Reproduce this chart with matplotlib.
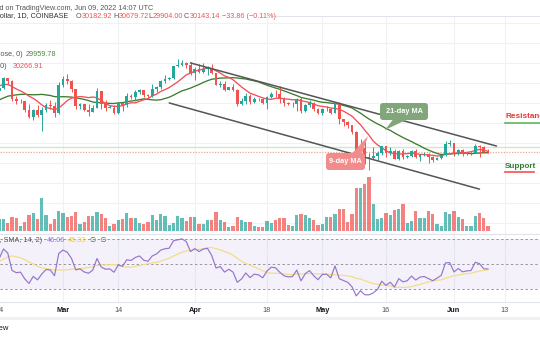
import numpy as np
import pandas as pd
import matplotlib
matplotlib.use("Agg")
import matplotlib.pyplot as plt
import matplotlib.dates as mdates
import matplotlib.transforms as mtrans
from matplotlib.patches import FancyBboxPatch, Polygon, Rectangle
from matplotlib.lines import Line2D

# ---------------- data ----------------
# daily closes before the visible window (Jan 1 - Feb 13, 2022), used for MA / RSI warm-up
prior_closes = [47690, 47290, 46430, 45830, 43430, 43080, 41560, 41730, 41860, 41830,
                42740, 43920, 42590, 43100, 43180, 43110, 42250, 42370, 41680, 40690,
                36470, 35050, 36280, 36690, 36960, 36810, 37160, 37710, 38170, 37920,
                38480, 38740, 36950, 37080, 41570, 41380, 42410, 43840, 44040, 44380,
                43540, 42380, 42220, 42070]

start_date, end_date = "2022-02-14", "2022-06-09"

closes = [
    # Feb 14-28
    42560, 44580, 43960, 40560, 40000, 40100, 38380, 37030, 38260, 37270, 38330, 39230, 39120, 37700, 43190,
    # Mar
    44420, 43920, 42460, 39140, 39400, 38420, 38020, 38740, 41940, 39420, 38730, 38810, 37780, 39670, 39280,
    41120, 40920, 41760, 42200, 41260, 41000, 42360, 42890, 43960, 44350, 44500, 46820, 47130, 47440, 47060, 45510,
    # Apr
    46280, 45810, 46400, 46580, 45500, 43170, 43440, 42250, 42750, 42150, 39530, 40080, 41150, 39940, 40550,
    40380, 39680, 40800, 41490, 41370, 40480, 39710, 39470, 39520, 40430, 38110, 39240, 39740, 38600, 37650,
    # May
    38470, 38520, 37720, 39690, 36550, 36010, 35470, 34040, 30080, 31010, 29000, 28950, 29280, 29860, 31300,
    29850, 30420, 28700, 30300, 29200, 29430, 30320, 29100, 29650, 29760, 29190, 28630, 29030, 29470, 31730, 31800,
    # Jun 1-9
    29800, 30460, 29700, 29860, 29920, 31370, 31130, 30180, 30143.14]

highs = [
    42840, 44770, 44590, 44190, 40980, 40450, 40150, 39480, 38430, 39270, 39000, 39700, 40290, 39860, 43760,
    44950, 45400, 44100, 42510, 39660, 39420, 39560, 39370, 42570, 42000, 40220, 39340, 39280, 39910, 39850,
    41720, 41470, 42320, 42400, 42300, 41540, 43350, 43000, 44200, 45090, 44800, 46920, 48190, 48100, 47700, 47600,
    46710, 47200, 47430, 46880, 47200, 45500, 43900, 43970, 42800, 43420, 42400, 40690, 41560, 41500, 40850,
    40700, 40600, 41100, 41760, 42200, 42980, 40800, 39980, 39930, 40630, 40790, 39450, 40370, 39920, 38790,
    38670, 39160, 38640, 39980, 39840, 36650, 36130, 35500, 34300, 32660, 32190, 30040, 31080, 30310, 31400,
    31310, 31040, 30680, 30540, 30740, 29610, 30440, 30660, 29810, 30200, 29850, 29380, 29210, 29560, 32200, 32400,
    31980, 30650, 30690, 29950, 30170, 31760, 31560, 31330, 30679.72]

lows = [
    41570, 42430, 43330, 40080, 39480, 39630, 38020, 36820, 36350, 37040, 34330, 38020, 38580, 37020, 37460,
    42830, 43330, 41850, 38580, 38610, 38120, 37160, 38000, 38680, 38550, 38220, 38660, 37580, 37560, 38120,
    38840, 40530, 40150, 41510, 40920, 40500, 40880, 41840, 42500, 43600, 44080, 44420, 46660, 46950, 46540, 45200,
    44220, 45630, 45520, 45120, 45360, 43140, 42740, 42110, 42130, 42000, 39200, 39250, 39560, 39550, 39770,
    40020, 39560, 38560, 40570, 40860, 39750, 39180, 39300, 38950, 38200, 37700, 37880, 38880, 38180, 37580,
    37380, 38060, 37510, 37670, 35570, 35260, 34780, 33710, 30030, 29730, 27790, 26700, 28720, 28630, 29480,
    29190, 29460, 28700, 28650, 28770, 28950, 29250, 28900, 28330, 29350, 28020, 28280, 28540, 28820, 29300, 31220,
    29320, 29580, 29300, 29480, 29500, 29900, 29240, 29850, 29904.00]

# volume, thousand BTC
volume_k = [
    12.0, 11.7, 8.3, 14.3, 13.3, 5.3, 9.3, 16.3, 17.7, 12.0, 32.7, 16.3, 7.3, 11.7, 20.0,
    17.7, 14.0, 15.0, 18.7, 7.3, 8.7, 15.3, 15.3, 19.3, 16.7, 12.7, 5.0, 6.7, 10.7, 12.0,
    17.7, 12.7, 13.3, 7.7, 6.7, 9.0, 16.0, 11.0, 17.0, 15.0, 6.3, 8.3, 14.7, 12.7, 10.3, 14.0,
    14.3, 6.7, 7.0, 11.0, 11.3, 18.7, 11.0, 9.3, 4.3, 5.0, 14.0, 11.0, 9.3, 8.7, 5.3,
    3.7, 4.0, 10.3, 8.3, 11.3, 13.0, 13.0, 6.0, 5.0, 16.3, 16.7, 16.0, 13.0, 11.0, 6.3,
    6.7, 13.7, 13.7, 16.7, 22.0, 22.0, 9.0, 17.3, 42.7, 42.7, 47.0, 53.7, 26.7, 11.7, 13.0,
    17.7, 15.7, 21.3, 22.0, 26.7, 7.7, 9.7, 20.0, 13.3, 13.3, 20.3, 16.7, 6.7, 5.3, 19.3, 16.7,
    20.3, 14.3, 12.0, 5.3, 5.3, 15.0, 17.7, 13.0, 5.0]

# hand-drawn channel (date, price)
channel_upper_dates = ["2022-03-31", "2022-06-11"]
channel_upper_prices = [47500, 31300]
channel_lower_dates = ["2022-03-26", "2022-06-07"]
channel_lower_prices = [39700, 22900]
level_line_price = 31100

tick_dates = ["2022-02-14", "2022-03-01", "2022-03-14", "2022-04-01", "2022-04-18",
              "2022-05-01", "2022-05-16", "2022-06-01", "2022-06-13"]
tick_labels = ["14", "Mar", "14", "Apr", "18", "May", "16", "Jun", "13"]

ohlc_labels = ["O", "H", "L", "C"]
ohlc_values = ["30182.92", "30679.72", "29904.00", "30143.14"]

# ---------------- derived series ----------------
dates = pd.date_range(start_date, end_date)
x = mdates.date2num(dates)
closes = np.array(closes, float)
highs = np.array(highs, float)
lows = np.array(lows, float)
opens = np.concatenate([[prior_closes[-1]], closes[:-1]])  # 24/7 market: open = prior close
volume_k = np.array(volume_k, float)

all_close = pd.Series(np.concatenate([prior_closes, closes]))
n_prior = len(prior_closes)
ma9 = all_close.rolling(9).mean().values[n_prior:]
ma21 = all_close.rolling(21).mean().values[n_prior:]


def rma(v, n):
    out = np.full(len(v), np.nan)
    out[n - 1] = v[:n].mean()
    for i in range(n, len(v)):
        out[i] = (out[i - 1] * (n - 1) + v[i]) / n
    return out


delta = np.diff(all_close.values)
ag = rma(np.clip(delta, 0, None), 14)
al = rma(np.clip(-delta, 0, None), 14)
rsi_all = np.concatenate([[np.nan], 100 - 100 / (1 + ag / al)])
rsi_sma_all = pd.Series(rsi_all).rolling(14).mean().values
rsi = rsi_all[n_prior:]
rsi_sma = rsi_sma_all[n_prior:]

# ---------------- style ----------------
W, H = 540, 340
GREEN = "#26a69a"
RED = "#ef5350"
GRID = "#eef1f6"
SEP = "#e0e3eb"
FONT = ["Liberation Sans", "DejaVu Sans"]

fig = plt.figure(figsize=(W / 100, H / 100), dpi=100)
fig.patch.set_facecolor("white")

PX_PER_DAY = 4.25
mar1 = mdates.date2num(pd.Timestamp("2022-03-01"))
XL = mar1 - 63 / PX_PER_DAY
XR = mar1 + (W - 63) / PX_PER_DAY
PRICE_LIM = (14350, 56650)


def fr(y0, y1):
    return [0, 1 - y1 / H, 1, (y1 - y0) / H]


# volume / grid axes (bottom layer), main price axes on top
axv = fig.add_axes(fr(16, 233))
ax = fig.add_axes(fr(16, 233))
rax = fig.add_axes(fr(233, 302))
for a in (axv, ax, rax):
    a.set_xlim(XL, XR)
    a.axis("off")
ax.patch.set_visible(False)
axv.set_zorder(1)
ax.set_zorder(2)
ax.set_ylim(*PRICE_LIM)
axv.set_ylim(-2, 215)
rax.set_ylim(19.6, 74.8)

tick_x = mdates.date2num(pd.to_datetime(tick_dates))

# grid
for ypx in range(23, 233, 20):
    f = (233 - ypx) / 217
    axv.plot([0, 1], [f, f], transform=axv.transAxes, color=GRID, lw=0.8, zorder=0)
for tx in tick_x:
    axv.axvline(tx, color=GRID, lw=0.8, zorder=0)
    rax.axvline(tx, color=GRID, lw=0.8, zorder=0)

up = closes >= opens
cols = np.where(up, GREEN, RED)

# volume bars
axv.bar(x, volume_k, width=0.8, color=cols, alpha=0.72, linewidth=0, zorder=2)

# horizontal price lines
ax.axhline(level_line_price, color="#cfe8cc", lw=1.0, zorder=1)
ax.axhline(closes[-1], color="#e9a898", lw=0.9, ls=(0, (1, 1.2)), zorder=1)

# moving averages
ax.plot(x, ma21, color="#3b7d2f", lw=0.95, zorder=3)
ax.plot(x, ma9, color="#f0505a", lw=0.95, zorder=3)

# candles
ax.vlines(x, lows, highs, colors=cols, linewidth=0.7, zorder=4)
body_lo = np.minimum(opens, closes)
body_h = np.maximum(np.abs(closes - opens), 120)
ax.bar(x, body_h, bottom=body_lo, width=0.68, color=cols, linewidth=0, zorder=5)

# channel
ax.plot(mdates.date2num(pd.to_datetime(channel_upper_dates)), channel_upper_prices,
        color="#555555", lw=1.1, zorder=6, solid_capstyle="round")
ax.plot(mdates.date2num(pd.to_datetime(channel_lower_dates)), channel_lower_prices,
        color="#555555", lw=1.1, zorder=6, solid_capstyle="round")

# RSI pane
rax.axhspan(30, 70, color="#7e57c2", alpha=0.08, lw=0, zorder=0)
for lv in (60, 40):
    rax.axhline(lv, color=GRID, lw=0.8, zorder=1)
for lv in (70, 50, 30):
    rax.axhline(lv, color="#9598a1", lw=0.7, ls=(0, (2.5, 2.5)), zorder=1)
rax.plot(x, rsi_sma, color="#f3dc84", lw=0.85, zorder=3)
rax.plot(x, rsi, color="#9575cd", lw=0.85, zorder=4)


# separators
def hline_px(y, x0=0, x1=W, color=SEP, lw=0.8):
    fig.add_artist(Line2D([x0 / W, x1 / W], [1 - y / H, 1 - y / H], color=color, lw=lw,
                          transform=fig.transFigure))


hline_px(16, 272, W)
hline_px(233.5)
hline_px(302)
fig.add_artist(Rectangle((0, 1 - 320 / H), 1, 3 / H, transform=fig.transFigure,
                         color="#eef0f4", lw=0))


# ---------------- text ----------------
def ptext(xp, yp, s, **kw):
    kw.setdefault("fontsize", 5.2)
    kw.setdefault("family", FONT)
    kw.setdefault("va", "center")
    return fig.text(xp / W, 1 - yp / H, s, **kw)


ptext(153, 8, "BTCUSD, published on TradingView.com, Jun 09, 2022 14:07 UTC", ha="right", color="#555555")
ptext(68, 16, "Bitcoin / U.S. Dollar, 1D, COINBASE", ha="right", color="#333333")
for xp, lab, val, off in zip([76, 113, 148, 184], ohlc_labels, ohlc_values, [5.9, 5.5, 4.3, 5.5]):
    ptext(xp, 16, lab, ha="left", color="#555555")
    ptext(xp + off, 16, val, ha="left", color=RED)
ptext(222, 16, "\u221233.86 (\u22120.11%)", ha="left", color=RED)

ptext(23, 55, "MA (21, close, 0)", ha="right", color="#555555")
ptext(26, 55, "29959.78", ha="left", color="#4a8a3e")
ptext(7, 66, "MA (9, close, 0)", ha="right", color="#555555")
ptext(13, 66, "30266.91", ha="left", color="#f0505a")

ptext(42, 241, "RSI (14, close, SMA, 14, 2)", ha="right", color="#555555")
ptext(47, 241, "46.06", ha="left", color="#9575cd")
ptext(68, 241, "45.33", ha="left", color="#e8c94a")
ptext(90, 241, "\u2205  \u2205", ha="left", color="#555555")

# time axis labels
blend = mtrans.blended_transform_factory(rax.transData, fig.transFigure)
for tx, lab in zip(tick_x, tick_labels):
    bold = lab.isalpha()
    fig.text(tx, 1 - 310 / H, lab, transform=blend, ha="center", va="center",
             fontsize=5.3, family=FONT, fontweight="bold" if bold else "normal",
             color="#131722" if bold else "#50535e")

ptext(9, 329, "TradingView", ha="right", color="#131722", fontsize=5.5)

# right-side labels
ptext(505, 117, "Resistance", ha="left", color="#e53935", fontweight="bold", fontsize=5.9)
hline_px(123, 505, W, color="#5cb85c", lw=1.2)
ptext(505, 166, "Support", ha="left", color="#2e7d32", fontweight="bold", fontsize=5.9)
hline_px(171.5, 505, 534, color="#ef5350", lw=1.2)


# callouts (pixel layout)
def inch(xp, yp):
    return (xp / 100, (H - yp) / 100)


def callout(x0, y0, x1, y1, tail, color, text):
    bx = FancyBboxPatch(inch(x0, y1), (x1 - x0) / 100, (y1 - y0) / 100,
                        boxstyle="round,pad=0,rounding_size=0.03",
                        transform=fig.dpi_scale_trans, facecolor=color, edgecolor="none", zorder=10)
    fig.add_artist(bx)
    fig.add_artist(Polygon([inch(*p) for p in tail], closed=True, transform=fig.dpi_scale_trans,
                           facecolor=color, edgecolor="none", zorder=10))
    ptext((x0 + x1) / 2, (y0 + y1) / 2 + 0.3, text, ha="center", color="white",
          fontweight="bold", fontsize=5.3, zorder=11)


callout(380, 103, 428, 120, [(393, 119.5), (407, 119.5), (385, 130)], "#80a679", "21-day MA")
callout(326, 153, 365, 170, [(352, 153.5), (362, 153.5), (368, 136)], "#f28b8b", "9-day MA")

fig.savefig("out.png", dpi=100, facecolor="white")
